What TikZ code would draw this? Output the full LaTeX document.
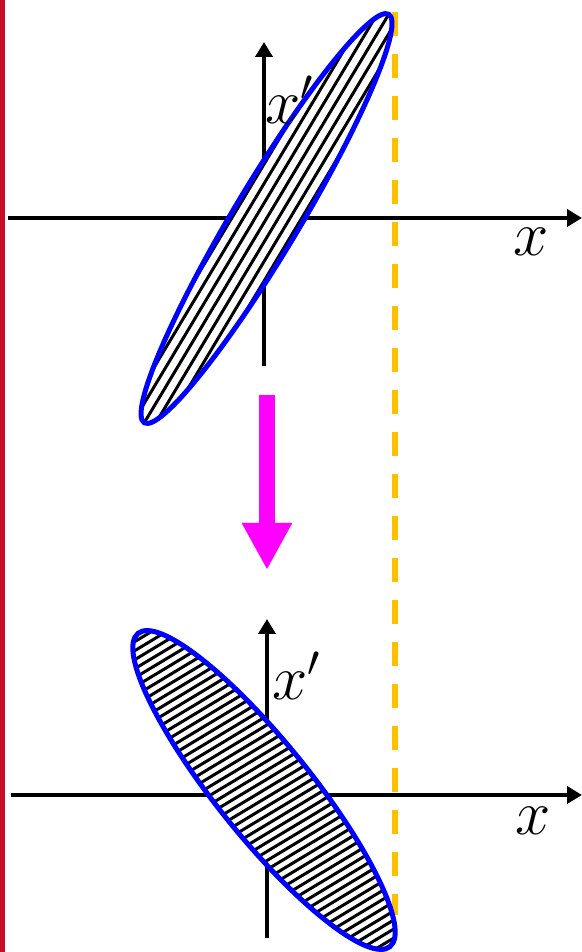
\documentclass[tikz,border=0pt]{standalone}
\usepackage{fontspec}
\setmainfont{Liberation Serif}
\usetikzlibrary{arrows.meta}
\definecolor{edgered}{RGB}{192,16,40}
\definecolor{gold}{RGB}{255,192,0}
\definecolor{pink}{RGB}{255,0,255}
\begin{document}
\begin{tikzpicture}[
  axis/.style={line width=0.08cm,-{Triangle[length=0.3cm,width=0.34cm]}},
  hatch/.style={line width=0.06cm},
  rim/.style={draw=blue,line width=0.1cm},
  lab/.style={inner sep=0pt,scale=1.45,font=\fontsize{24}{24}\selectfont}
]
  \useasboundingbox (0,0) rectangle (11.64,19.04);
  % left edge bar
  \coordinate (r1) at (0.05,0);
  \coordinate (r2) at (0.05,19.04);
  \draw[edgered,line width=0.1cm] (r1)--(r2);
  % axes, upper
  \coordinate (xl1) at (0.16,14.68);
  \coordinate (xr1) at (11.64,14.68);
  \coordinate (yb1) at (5.28,11.72);
  \coordinate (yt1) at (5.28,18.20);
  \draw[axis] (xl1)--(xr1);
  \draw[axis] (yb1)--(yt1);
  % axes, lower
  \coordinate (xl2) at (0.22,3.14);
  \coordinate (xr2) at (11.64,3.14);
  \coordinate (yb2) at (5.34,0.28);
  \coordinate (yt2) at (5.34,6.66);
  \draw[axis] (xl2)--(xr2);
  \draw[axis] (yb2)--(yt2);
  % dashed limit
  \coordinate (d1) at (7.90,18.80);
  \coordinate (d2) at (7.90,0.74);
  \draw[gold,line width=0.12cm,dash pattern=on 0.48cm off 0.36cm] (d1)--(d2);
  % upper ellipse
  \coordinate (c1) at (5.33,14.67);
  \begin{scope}[shift={(c1)},rotate=59.1]
    \fill[white] (0,0) ellipse (4.76 and 0.66);
    \clip (0,0) ellipse (4.76 and 0.66);
    \foreach \k in {-4,...,4}
      \draw[hatch] (-5,\k*0.2)--(5,\k*0.2);
  \end{scope}
  \draw[rim,rotate around={59.1:(c1)}] (c1) ellipse (4.76 and 0.66);
  % lower ellipse
  \coordinate (c2) at (5.28,3.24);
  \begin{scope}[shift={(c2)}]
    \fill[white,rotate=-51.2] (0,0) ellipse (4.02 and 0.94);
    \clip[rotate=-51.2] (0,0) ellipse (4.02 and 0.94);
    \foreach \k in {-28,...,28}
      \draw[hatch,rotate=31] (-5,\k*0.155)--(5,\k*0.155);
  \end{scope}
  \draw[rim,rotate around={-51.2:(c2)}] (c2) ellipse (4.02 and 0.94);
  % magenta arrow
  \coordinate (a1) at (5.34,11.14);
  \coordinate (a2) at (5.34,7.64);
  \draw[pink,line width=0.32cm,-{Triangle[length=0.94cm,width=0.94cm]}] (a1)--(a2);
  % labels
  \node[lab] (xp1) at (5.80,17.04) {$x'$};
  \node[lab] (x1) at (10.62,14.20) {$x$};
  \node[lab] (xp2) at (5.94,5.52) {$x'$};
  \node[lab] (x2) at (10.66,2.62) {$x$};
\end{tikzpicture}
\end{document}
